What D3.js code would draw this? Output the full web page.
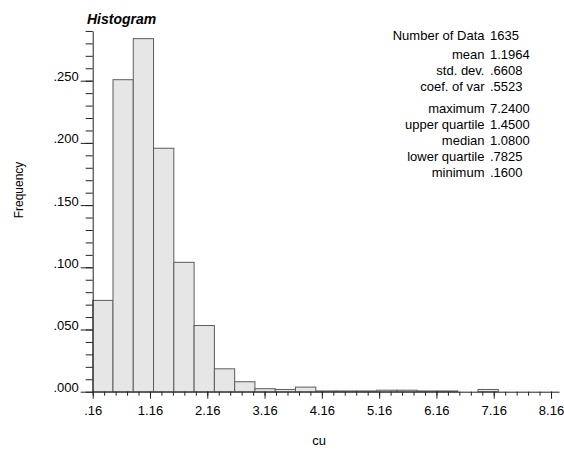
<!DOCTYPE html>
<html>
<head>
<meta charset="utf-8">
<script src="https://cdn.jsdelivr.net/npm/d3@7"></script>
<style>
  html, body { margin: 0; padding: 0; background: #fff; }
  svg { display: block; font-family: "Liberation Sans", Arial, Helvetica, sans-serif; }
  .axis path, .axis line { stroke: #222; }
  .axis text { fill: #000; font-size: 13px; }
</style>
</head>
<body>
<svg id="chart" width="564" height="449"></svg>
<script>
// Histogram of cu: 20 equal-width classes between the minimum and maximum
const binStart = 0.16;
const binWidth = 0.354;
const frequencies = [
  0.0734, 0.2508, 0.2838, 0.1957, 0.1040, 0.0532, 0.0184, 0.0080, 0.0024, 0.0018,
  0.0037, 0.0006, 0.0006, 0.0006, 0.0012, 0.0012, 0.0006, 0.0006, 0.0000, 0.0018
];

const xTickValues = [0.16, 1.16, 2.16, 3.16, 4.16, 5.16, 6.16, 7.16, 8.16];
const yTickValues = [0, 0.05, 0.10, 0.15, 0.20, 0.25];

const statLabels = ["Number of Data", "mean", "std. dev.", "coef. of var",
                    "maximum", "upper quartile", "median", "lower quartile", "minimum"];
const statValues = ["1635", "1.1964", ".6608", ".5523",
                    "7.2400", "1.4500", "1.0800", ".7825", ".1600"];

const svg = d3.select("#chart");

const x0 = 92.7, pxPerUnit = 57.29;
const x = d3.scaleLinear().domain([0.16, 8.30]).range([x0, x0 + 8.14 * pxPerUnit]);
const y = d3.scaleLinear().domain([0, 0.29]).range([391.7, 391.7 - 0.29 * 1244]);

const bins = frequencies.map((f, i) => ({
  x0: binStart + i * binWidth,
  x1: binStart + (i + 1) * binWidth,
  f
}));

// bars
svg.append("g")
  .selectAll("rect")
  .data(bins)
  .join("rect")
  .attr("x", d => x(d.x0))
  .attr("y", d => y(d.f))
  .attr("width", d => x(d.x1) - x(d.x0))
  .attr("height", d => y(0) - y(d.f))
  .attr("fill", "#e6e6e6")
  .attr("stroke", "#5c5c5c")
  .attr("stroke-width", 1);

const stripZero = s => s.replace(/^0\./, ".");

// x axis: minor ticks every 0.2, labelled majors every unit
const xMinor = d3.range(0, 41).map(i => 0.16 + i * 0.2);
svg.append("g")
  .attr("class", "axis")
  .attr("transform", `translate(0,${y(0)})`)
  .call(d3.axisBottom(x).tickValues(xMinor).tickSize(4).tickSizeOuter(0).tickFormat(""));

const xAxis = svg.append("g")
  .attr("class", "axis")
  .attr("transform", `translate(0,${y(0)})`)
  .call(d3.axisBottom(x).tickValues(xTickValues).tickSize(7).tickSizeOuter(0)
    .tickFormat(d => stripZero(d3.format(".2f")(d))));
xAxis.select(".domain").remove();
xAxis.selectAll("text").attr("y", 23.3).attr("dy", 0);

// y axis: minor ticks every 0.01, labelled majors every 0.05
const yMinor = d3.range(0, 30).map(i => i * 0.01);
svg.append("g")
  .attr("class", "axis")
  .attr("transform", `translate(${x0},0)`)
  .call(d3.axisLeft(y).tickValues(yMinor).tickSize(7).tickSizeOuter(0).tickFormat(""));

const yAxis = svg.append("g")
  .attr("class", "axis")
  .attr("transform", `translate(${x0},0)`)
  .call(d3.axisLeft(y).tickValues(yTickValues).tickSize(12).tickSizeOuter(0)
    .tickFormat(d => stripZero(d3.format(".3f")(d))));
yAxis.select(".domain").remove();
yAxis.selectAll("text").attr("x", -14).attr("dy", 0);

// axis titles
svg.append("text")
  .attr("x", 319).attr("y", 445)
  .attr("text-anchor", "middle")
  .attr("font-size", 13)
  .text("cu");

svg.append("text")
  .attr("transform", "translate(23,190) rotate(-90)")
  .attr("text-anchor", "middle")
  .attr("font-size", 12)
  .text("Frequency");

// chart title
svg.append("text")
  .attr("x", 87).attr("y", 23.5)
  .attr("font-size", 14)
  .attr("font-weight", "bold")
  .attr("font-style", "italic")
  .text("Histogram");

// summary statistics
const statY = [40, 59, 75, 91, 113, 129, 145, 161, 177];
const stats = svg.append("g").attr("font-size", 13).attr("fill", "#000");
stats.selectAll("text.label")
  .data(statLabels)
  .join("text")
  .attr("class", "label")
  .attr("x", 484.5)
  .attr("y", (d, i) => statY[i])
  .attr("text-anchor", "end")
  .text(d => d);
stats.selectAll("text.value")
  .data(statValues)
  .join("text")
  .attr("class", "value")
  .attr("x", 490)
  .attr("y", (d, i) => statY[i])
  .text(d => d);
</script>
</body>
</html>
